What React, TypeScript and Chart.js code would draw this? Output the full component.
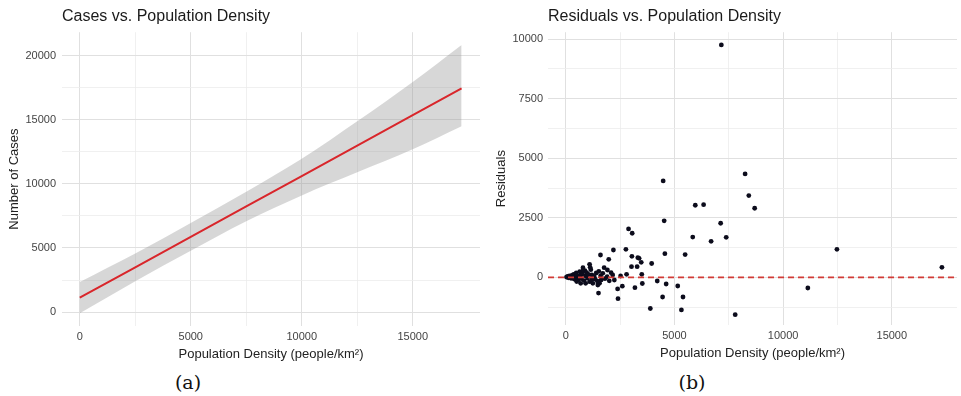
import React, { useEffect, useRef } from "react";
import { Chart, registerables } from "chart.js";

Chart.register(...registerables);

// ---- Panel (a): fitted regression line with confidence band ----
const densityGrid = [0, 2500, 5000, 7500, 10000, 12500, 15000, 17200];
const fittedCases = [1115, 3490, 5865, 8240, 10610, 12990, 15360, 17450];
const ciUpper = [2350, 4570, 6945, 9390, 11960, 14890, 17960, 20850];
const ciLower = [-100, 2410, 4785, 7090, 9100, 10900, 12700, 14500];

// ---- Panel (b): residuals ----
const residDensity = [
  7156, 4480, 8250, 8420, 8690, 5957, 6340, 7125, 4526, 5840, 6685, 7380,
  12475, 17306, 11136, 7794, 4558, 5490, 3950, 3470, 3373, 3495, 3520, 4207,
  4617, 5150, 4453, 5392, 3888, 5319, 2886, 3054, 1595, 2190, 2765, 1975,
  1094, 3040, 3313, 3022, 3282, 2795, 3180, 2600, 2384, 2401, 1504,
  1762, 1914, 1518, 789, 880, 1200, 1701, 2083, 2156, 2520, 1900, 2233,
  1550, 1473, 1626, 1094, 1244, 912, 684, 410,
  30, 80, 120, 160, 200, 240, 280, 320, 360, 400, 450, 480, 520, 560, 600,
  640, 680, 720, 760, 800, 840, 900, 960, 1000, 1040, 1150, 1300, 1350, 1400,
  1450, 1600, 1800, 2000, 650, 500, 350, 1120, 1200,
];
const residValues = [
  9760, 4046, 4340, 3430, 2900, 3025, 3050, 2270, 2370, 1690, 1512, 1680,
  1176, 420, -450, -1571, 993, 955, 580, 630, 798, 126, -260, -155,
  -281, -366, -828, -828, -1310, -1370, 2030, 1849, 937, 1147, 1176, 756,
  546, 880, 824, 445, 445, 126, -437, -372, -490, -899, -665,
  403, 307, 250, 400, 277, 97, 168, 193, 97, 55, 25, -113,
  -252, -323, -113, -185, -252, -252, -252, -84,
  10, 40, -20, 60, 20, -40, 80, 0, 120, 40, -60, 180, 70, -120, 20,
  240, 90, -60, 150, 300, -140, 60, 200, -30, 120, 320, 40, -80, 180,
  -160, 60, -60, -150, 0, -180, -50, 420, -100,
];

// axis ranges and grid breaks
const xRangeA = [-800, 18030];
const yRangeA = [-1090, 21840];
const xRangeB = [-820, 18000];
const yRangeB = [-2004, 10294];
const xBreaks = [0, 2500, 5000, 7500, 10000, 12500, 15000];
const yBreaksA = [0, 2500, 5000, 7500, 10000, 12500, 15000, 17500, 20000];
const yBreaksB = [-1250, 0, 1250, 2500, 3750, 5000, 6250, 7500, 8750, 10000];

const FONT = "'Liberation Sans', Arial, Helvetica, sans-serif";

function gridFor(step: number) {
  return {
    drawTicks: false,
    color: (c: any) => (c.tick && c.tick.value % step === 0 ? "#e0e0e0" : "#ececec"),
    lineWidth: (c: any) => (c.tick && c.tick.value % step === 0 ? 1 : 0.8),
  };
}

function axisX(range: number[], breaks: number[]) {
  return {
    type: "linear" as const,
    min: range[0],
    max: range[1],
    border: { display: false },
    grid: gridFor(5000),
    afterBuildTicks: (s: any) => {
      s.ticks = breaks.map((v) => ({ value: v }));
    },
    afterFit: (s: any) => {
      s.height = 36;
    },
    ticks: {
      padding: 4,
      maxRotation: 0,
      autoSkip: false,
      color: "#444444",
      font: { family: FONT, size: 11 },
      callback: (v: any) => (Number(v) % 5000 === 0 ? String(v) : ""),
    },
    title: {
      display: true,
      text: "Population Density (people/km²)",
      color: "#222222",
      font: { family: FONT, size: 13 },
      padding: { top: 0, bottom: 0 },
    },
  };
}

function axisY(range: number[], breaks: number[], step: number, width: number, label: string, titlePad: number, tickPad: number) {
  return {
    type: "linear" as const,
    min: range[0],
    max: range[1],
    border: { display: false },
    grid: gridFor(step),
    afterBuildTicks: (s: any) => {
      s.ticks = breaks.map((v) => ({ value: v }));
    },
    afterFit: (s: any) => {
      s.width = width;
    },
    ticks: {
      padding: tickPad,
      autoSkip: false,
      color: "#444444",
      font: { family: FONT, size: 11 },
      callback: (v: any) => (Number(v) % step === 0 ? String(v) : ""),
    },
    title: {
      display: true,
      text: label,
      color: "#222222",
      font: { family: FONT, size: 13 },
      padding: { top: titlePad, bottom: 0 },
    },
  };
}

function titleOpt(text: string, bottomPad: number) {
  return {
    display: true,
    text,
    align: "start" as const,
    fullSize: false,
    color: "#1a1a1a",
    font: { family: FONT, size: 16, weight: "normal" as const },
    padding: { top: 7, bottom: bottomPad },
  };
}

function PanelA() {
  const ref = useRef<HTMLCanvasElement>(null);
  useEffect(() => {
    const pts = (ys: number[]) => densityGrid.map((x, i) => ({ x, y: ys[i] }));
    const chart = new Chart(ref.current!, {
      type: "line",
      data: {
        datasets: [
          {
            label: "fit",
            data: pts(fittedCases),
            borderColor: "#d9262b",
            borderWidth: 2,
            pointRadius: 0,
            fill: false,
          },
          {
            label: "upper",
            data: pts(ciUpper),
            borderWidth: 0,
            borderColor: "rgba(0,0,0,0)",
            backgroundColor: "rgba(150,150,150,0.38)",
            pointRadius: 0,
            cubicInterpolationMode: "monotone",
            fill: "+1",
          },
          {
            label: "lower",
            data: pts(ciLower),
            borderWidth: 0,
            borderColor: "rgba(0,0,0,0)",
            pointRadius: 0,
            cubicInterpolationMode: "monotone",
            fill: false,
          },
        ],
      },
      options: {
        animation: false,
        responsive: false,
        maintainAspectRatio: false,
        layout: { padding: 0 },
        plugins: {
          legend: { display: false },
          tooltip: { enabled: false },
          title: titleOpt("Cases vs. Population Density", 6),
        },
        scales: {
          x: axisX(xRangeA, xBreaks),
          y: axisY(yRangeA, yBreaksA, 5000, 62, "Number of Cases", 7, 6),
        },
      },
    } as any);
    return () => chart.destroy();
  }, []);
  return <canvas ref={ref} width={480} height={362} style={{ position: "absolute", left: 0, top: 0, width: 480, height: 362 }} />;
}

function PanelB() {
  const ref = useRef<HTMLCanvasElement>(null);
  useEffect(() => {
    const chart = new Chart(ref.current!, {
      type: "scatter",
      data: {
        datasets: [
          {
            type: "line",
            label: "zero",
            data: [
              { x: xRangeB[0], y: 0 },
              { x: xRangeB[1], y: 0 },
            ],
            borderColor: "#d23b36",
            borderWidth: 1.8,
            borderDash: [6, 4],
            pointRadius: 0,
            fill: false,
            order: 0,
          },
          {
            label: "residuals",
            data: residDensity.map((x, i) => ({ x, y: residValues[i] })),
            backgroundColor: "#0c0c1c",
            borderWidth: 0,
            pointRadius: 2.4,
            order: 1,
          },
        ],
      },
      options: {
        animation: false,
        responsive: false,
        maintainAspectRatio: false,
        layout: { padding: 0 },
        plugins: {
          legend: { display: false },
          tooltip: { enabled: false },
          title: titleOpt("Residuals vs. Population Density", 6),
        },
        scales: {
          x: axisX(xRangeB, xBreaks),
          y: axisY(yRangeB, yBreaksB, 2500, 68, "Residuals", 14, 5),
        },
      },
    } as any);
    return () => chart.destroy();
  }, []);
  return <canvas ref={ref} width={481} height={361} style={{ position: "absolute", left: 480, top: 0, width: 481, height: 361 }} />;
}

const captionStyle: React.CSSProperties = {
  position: "absolute",
  top: 371,
  width: 80,
  height: 22,
  lineHeight: "22px",
  textAlign: "center",
  fontFamily: "'DejaVu Serif', 'Liberation Serif', serif",
  fontSize: 19,
  color: "#111",
};

export default function App() {
  return (
    <div style={{ position: "absolute", left: 0, top: 0, width: 961, height: 396, background: "#fff", overflow: "hidden" }}>
      <PanelA />
      <PanelB />
      <div style={{ ...captionStyle, left: 148 }}>(a)</div>
      <div style={{ ...captionStyle, left: 652 }}>(b)</div>
    </div>
  );
}
